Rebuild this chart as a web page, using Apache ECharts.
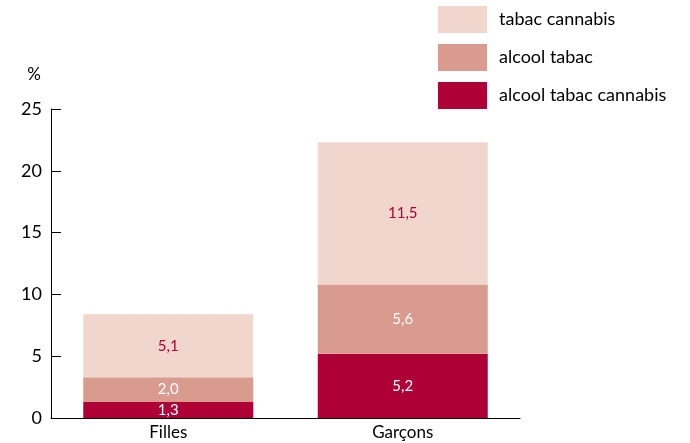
<!DOCTYPE html>
<html><head><meta charset="utf-8">
<script src="https://cdn.jsdelivr.net/npm/echarts@6/dist/echarts.min.js"></script>
<style>html,body{margin:0;padding:0;background:#fff}#c{width:690px;height:443px}</style>
</head><body><div id="c"></div>
<script>
var categories = ['Filles', 'Garçons'];
var alcoolTabacCannabis = [1.3, 5.2];
var alcoolTabac = [2.0, 5.6];
var tabacCannabis = [5.1, 11.5];
var yTicks = [0, 5, 10, 15, 20, 25];

var FONT = 'Lato';
function fmt(p){ return String(p.value.toFixed(1)).replace('.', ','); }
var chart = echarts.init(document.getElementById('c'));
chart.setOption({
  animation: false,
  textStyle: {fontFamily: FONT},
  grid: {left: 51, right: 170, top: 109, bottom: 25},
  legend: {
    orient: 'vertical', left: 438, top: 6, padding: 0, itemWidth: 49, itemHeight: 27, itemGap: 11,
    icon: 'rect',
    textStyle: {fontFamily: FONT, fontSize: 18, color: '#000', padding: [0,0,0,7]},
    data: ['tabac cannabis', 'alcool tabac', 'alcool tabac cannabis']
  },
  xAxis: {
    type: 'category', data: categories,
    axisLine: {lineStyle: {color: '#000', width: 1}},
    axisTick: {inside: true, length: 9, lineStyle: {color: '#000'}},
    axisLabel: {fontFamily: FONT, fontSize: 17, color: '#000', margin: 6}
  },
  yAxis: {
    type: 'value', min: yTicks[0], max: yTicks[yTicks.length-1], interval: 5,
    name: '%', nameLocation: 'end', nameGap: 26,
    nameTextStyle: {fontFamily: FONT, fontSize: 17, color: '#000', align: 'right', padding: [0, 10, 0, 0]},
    axisLine: {show: true, lineStyle: {color: '#000', width: 1}},
    axisTick: {show: true, inside: true, length: 10, lineStyle: {color: '#000'}},
    axisLabel: {fontFamily: FONT, fontSize: 18, color: '#000', margin: 9},
    splitLine: {show: false}
  },
  series: [
    {name: 'alcool tabac cannabis', type: 'bar', stack: 's', barWidth: 170, data: alcoolTabacCannabis,
     itemStyle: {color: '#ae0037'},
     label: {show: true, position: 'inside', color: '#fff', fontSize: 15, fontFamily: FONT, formatter: fmt}},
    {name: 'alcool tabac', type: 'bar', stack: 's', barWidth: 170, data: alcoolTabac,
     itemStyle: {color: '#da9b8f'},
     label: {show: true, position: 'inside', color: '#fff', fontSize: 15, fontFamily: FONT, formatter: fmt}},
    {name: 'tabac cannabis', type: 'bar', stack: 's', barWidth: 170, data: tabacCannabis,
     itemStyle: {color: '#f1d6cd'},
     label: {show: true, position: 'inside', color: '#ae0037', fontSize: 15, fontFamily: FONT, formatter: fmt}}
  ]
});
</script></body></html>
